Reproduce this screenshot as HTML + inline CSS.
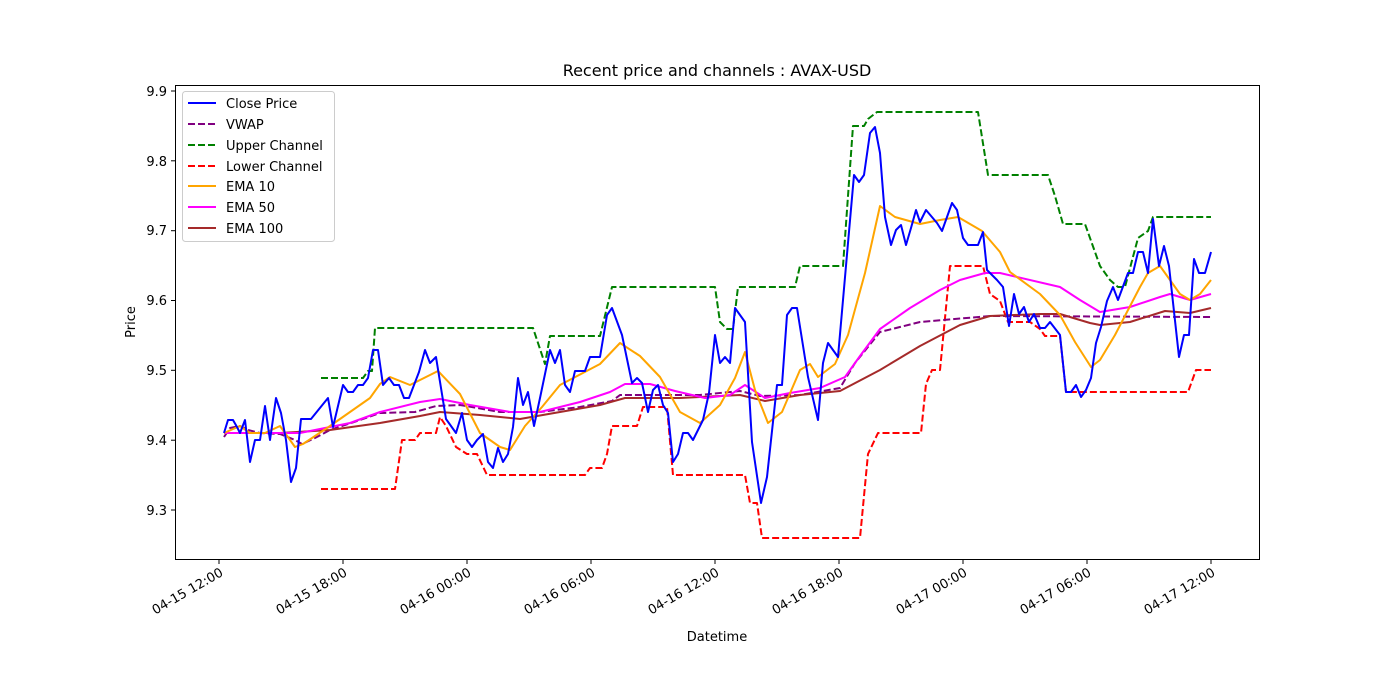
<!DOCTYPE html>
<html><head><meta charset="utf-8"><style>
html,body{margin:0;padding:0;background:#fff;}
svg{display:block;font-family:"DejaVu Sans","Liberation Sans",sans-serif;}
</style></head><body>
<svg width="1400" height="700" viewBox="0 0 1400 700" xmlns="http://www.w3.org/2000/svg">
<rect width="1400" height="700" fill="#fff"/>
<text x="717" y="76" font-size="16" text-anchor="middle">Recent price and channels : AVAX-USD</text>
<g fill="none" stroke-linejoin="round">
<!-- Upper channel -->
<polyline stroke="#008000" stroke-width="2" stroke-dasharray="7,3" points="321,378 363,378 368,371 372,371 375,328 533,328 545,364 550,336 600,336 612,287 715,287 720,322 727,329 733,329 738,287 795,287 800,266 843,266 853,126 864,126 868,119 877,112 978,112 988,175 1048,175 1055,196 1063,224 1085,224 1100,266 1110,280 1118,287 1125,287 1138,238 1148,231 1153,217 1211,217"/>
<!-- Lower channel -->
<polyline stroke="#ff0000" stroke-width="2" stroke-dasharray="7,3" points="321,489 395,489 402,440 415,440 420,433 436,433 440,417 446,426 456,447 467,454 477,454 487,475 585,475 590,468 602,468 607,454 612,426 637,426 643,407 667,407 673,475 745,475 750,503 757,503 762,538 860,538 868,454 878,433 921,433 926,384 932,370 940,370 950,266 983,266 990,294 1000,301 1008,322 1030,322 1040,329 1045,336 1060,336 1066,392 1188,392 1196,370 1203,370 1211,370"/>
<!-- VWAP -->
<polyline stroke="#800080" stroke-width="2" stroke-dasharray="7,3" points="224,437 230,428 240,426 248,430 260,433 280,434 295,440 302,444 315,438 330,430 360,420 380,413 415,412 436,406 460,405 500,412 540,412 580,407 612,401 620,395 700,395 740,391 760,396 800,395 840,388 855,363 880,332 920,322 990,316 1211,317"/>
<!-- EMA 100 -->
<polyline stroke="#a52a2a" stroke-width="2" points="224,433 280,433 330,430 380,423 420,416 440,412 480,415 520,419 560,412 600,405 625,398 680,398 740,395 765,401 800,395 840,391 880,370 920,346 960,325 990,316 1040,314 1060,314 1090,323 1100,325 1130,322 1165,311 1190,313 1211,308"/>
<!-- EMA 50 -->
<polyline stroke="#ff00ff" stroke-width="2" points="224,433 300,433 350,423 380,412 420,402 440,399 470,405 510,412 540,412 580,402 610,392 625,384 650,384 675,391 705,398 730,395 745,385 765,398 790,393 820,388 845,377 860,356 880,329 910,308 940,290 960,280 985,273 1000,273 1060,287 1080,300 1100,312 1130,307 1160,297 1170,294 1190,300 1211,294"/>
<!-- EMA 10 -->
<polyline stroke="#ffa500" stroke-width="2" points="224,433 240,426 250,433 265,433 280,426 295,447 303,444 330,426 350,412 370,398 380,384 390,377 410,385 438,371 460,394 480,433 500,447 510,450 525,426 542,407 560,385 600,364 620,343 640,356 660,377 680,412 700,423 720,405 735,378 745,352 755,390 768,423 782,412 800,370 810,364 818,377 835,364 848,335 865,273 880,206 895,217 920,224 940,220 958,217 982,231 1000,252 1010,272 1040,294 1060,315 1075,342 1091,367 1100,360 1115,335 1140,287 1148,273 1160,266 1180,294 1190,300 1200,294 1211,280"/>
<!-- Close -->
<polyline stroke="#0000ff" stroke-width="2" points="224,433 228,420 233,420 237,427 240,433 245,420 250,462 255,440 260,440 265,406 270,440 276,398 281,413 286,440 291,482 296,468 301,419 311,419 328,398 333,427 343,385 348,392 353,392 358,385 363,385 368,378 373,350 378,350 383,385 389,378 394,385 399,385 404,398 409,398 419,372 425,350 430,363 436,357 446,419 456,433 462,413 467,440 472,447 477,440 483,434 488,462 493,468 498,448 503,462 508,454 513,427 518,378 523,405 528,392 534,426 540,398 550,350 555,363 560,350 565,385 570,392 575,371 585,371 590,357 600,357 607,315 612,308 622,335 632,383 637,378 642,383 648,412 653,390 658,385 663,405 668,413 673,462 678,454 683,433 688,433 693,440 703,420 709,393 715,335 720,363 725,357 730,363 735,308 745,322 752,442 761,503 767,477 777,385 782,385 787,315 792,308 797,308 808,377 818,420 823,363 828,343 838,357 848,243 854,175 859,182 864,175 870,133 875,127 880,153 885,217 891,245 896,230 901,225 906,245 911,228 916,210 920,222 926,210 937,223 942,231 952,203 957,210 963,238 968,245 978,245 983,232 987,270 997,280 1003,287 1009,326 1014,294 1019,314 1024,307 1029,322 1034,314 1040,328 1045,328 1050,322 1060,335 1066,392 1071,392 1076,385 1081,397 1086,390 1091,378 1096,343 1101,327 1107,301 1113,287 1118,300 1128,273 1133,273 1138,252 1143,252 1148,273 1153,219 1159,266 1164,246 1169,266 1179,357 1184,335 1189,335 1194,259 1199,273 1205,273 1211,252"/>
</g>
<rect x="175.5" y="85.5" width="1084" height="474" fill="none" stroke="#000" stroke-width="1"/>
<!-- y ticks -->
<g stroke="#000" stroke-width="1">
<line x1="171" x2="175" y1="510" y2="510"/><line x1="171" x2="175" y1="440.2" y2="440.2"/><line x1="171" x2="175" y1="370.3" y2="370.3"/><line x1="171" x2="175" y1="300.5" y2="300.5"/><line x1="171" x2="175" y1="230.7" y2="230.7"/><line x1="171" x2="175" y1="160.8" y2="160.8"/><line x1="171" x2="175" y1="91" y2="91"/>
<line x1="219" x2="219" y1="560" y2="564"/><line x1="343" x2="343" y1="560" y2="564"/><line x1="467" x2="467" y1="560" y2="564"/><line x1="591" x2="591" y1="560" y2="564"/><line x1="715" x2="715" y1="560" y2="564"/><line x1="839" x2="839" y1="560" y2="564"/><line x1="963" x2="963" y1="560" y2="564"/><line x1="1087" x2="1087" y1="560" y2="564"/><line x1="1211" x2="1211" y1="560" y2="564"/>
</g>
<g font-size="13" text-anchor="end">
<text x="167" y="515">9.3</text><text x="167" y="445">9.4</text><text x="167" y="375">9.5</text><text x="167" y="305">9.6</text><text x="167" y="235">9.7</text><text x="167" y="166">9.8</text><text x="167" y="96">9.9</text>
</g>
<g font-size="13" text-anchor="end">
<text transform="translate(224,575) rotate(-30)">04-15 12:00</text>
<text transform="translate(348,575) rotate(-30)">04-15 18:00</text>
<text transform="translate(472,575) rotate(-30)">04-16 00:00</text>
<text transform="translate(596,575) rotate(-30)">04-16 06:00</text>
<text transform="translate(720,575) rotate(-30)">04-16 12:00</text>
<text transform="translate(844,575) rotate(-30)">04-16 18:00</text>
<text transform="translate(968,575) rotate(-30)">04-17 00:00</text>
<text transform="translate(1092,575) rotate(-30)">04-17 06:00</text>
<text transform="translate(1216,575) rotate(-30)">04-17 12:00</text>
</g>
<text x="717" y="641" font-size="13" text-anchor="middle">Datetime</text>
<text transform="translate(135,322) rotate(-90)" font-size="13" text-anchor="middle">Price</text>
<!-- legend -->
<rect x="182.5" y="91.5" width="152" height="150" rx="3" fill="#fff" fill-opacity="0.8" stroke="#ccc"/>
<g stroke-width="2" fill="none">
<line x1="188" x2="216" y1="103" y2="103" stroke="#0000ff"/>
<line x1="188" x2="216" y1="124" y2="124" stroke="#800080" stroke-dasharray="7,3"/>
<line x1="188" x2="216" y1="145" y2="145" stroke="#008000" stroke-dasharray="7,3"/>
<line x1="188" x2="216" y1="166" y2="166" stroke="#ff0000" stroke-dasharray="7,3"/>
<line x1="188" x2="216" y1="186" y2="186" stroke="#ffa500"/>
<line x1="188" x2="216" y1="207" y2="207" stroke="#ff00ff"/>
<line x1="188" x2="216" y1="228" y2="228" stroke="#a52a2a"/>
</g>
<g font-size="13">
<text x="226" y="108">Close Price</text><text x="226" y="129">VWAP</text><text x="226" y="150">Upper Channel</text><text x="226" y="171">Lower Channel</text><text x="226" y="191">EMA 10</text><text x="226" y="212">EMA 50</text><text x="226" y="233">EMA 100</text>
</g>
</svg>
</body></html>
